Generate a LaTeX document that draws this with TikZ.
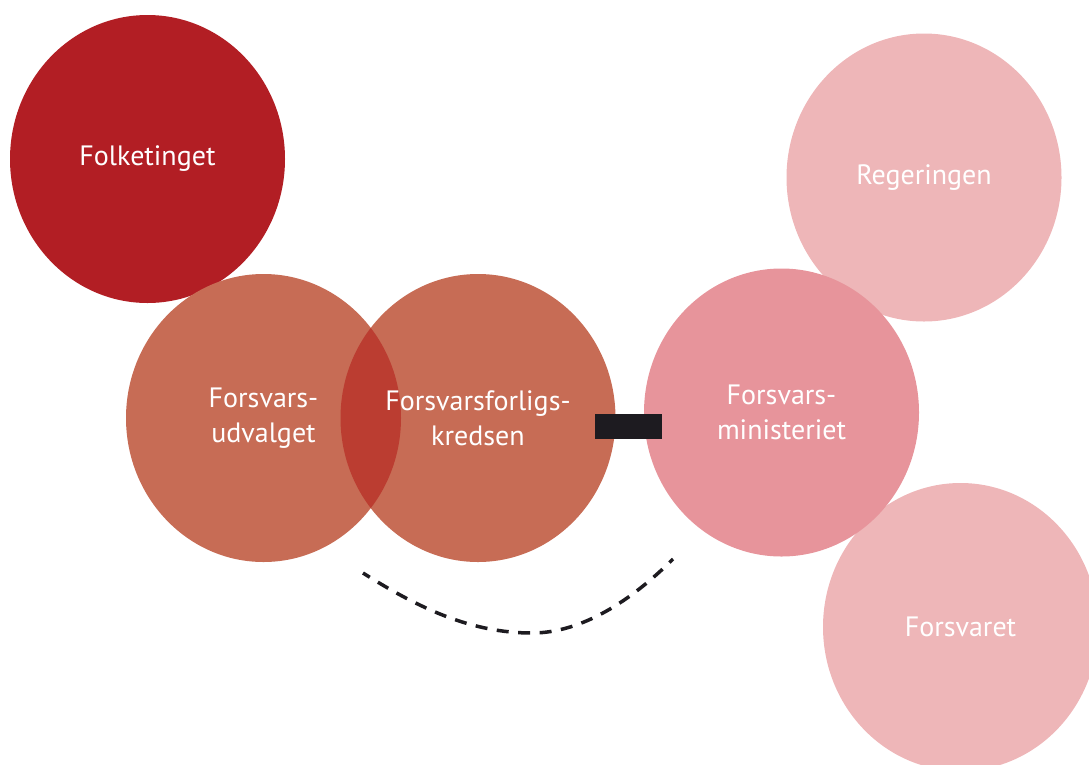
\documentclass[tikz,border=0pt]{standalone}
\usepackage{fontspec}
\setmainfont{PT Sans}
\usetikzlibrary{shapes.geometric}
\definecolor{folkred}{HTML}{B21E24}
\definecolor{salmon}{HTML}{C76C55}
\definecolor{lensred}{HTML}{BB3D31}
\definecolor{minipink}{HTML}{E7949B}
\definecolor{lightpink}{HTML}{EEB6B8}
\definecolor{barblack}{HTML}{1D1B20}
\begin{document}
\begin{tikzpicture}[x=1pt,y=-1pt,
  bubble/.style={ellipse, minimum width=275pt, minimum height=288pt, inner sep=0pt,
    text=white, align=center, font=\fontsize{28}{35}\selectfont},
  linkbar/.style={barblack, line width=25pt},
  dashlink/.style={barblack, line width=3.5pt, dash pattern=on 12pt off 9.5pt, dash phase=4pt}]
\useasboundingbox (0,0) rectangle (1089,764);
\node[bubble, fill=folkred] (folk) at (147.5,159) {Folketinget};
\node[bubble, fill=lightpink] (reg) at (924,177.5) {Regeringen};
\node[bubble, fill=lightpink] (forsv) at (960.5,627) {Forsvaret};
\node[bubble, fill=salmon] (udv) at (263.5,418) {Forsvars-\\udvalget};
\node[bubble, fill=salmon,
  path picture={\fill[lensred] ([xshift=-214.5pt]path picture bounding box.center)
    ellipse [x radius=137.5pt, y radius=144pt];}] (kred) at (478,418)
  {Forsvarsforligs-\\kredsen};
\node[bubble, fill=minipink] (mini) at (781.5,412.5) {Forsvars-\\ministeriet};
\coordinate (la) at ([xshift=-20.5pt,yshift=-8.5pt]kred.east);
\coordinate (lb) at ([xshift=18pt,yshift=-14pt]mini.west);
\draw[linkbar] (la) -- (lb);
\coordinate (da) at (363,573);
\coordinate (dm) at (532,633);
\coordinate (db) at (673,559);
\draw[dashlink] (da) .. controls (420,609) and (472,633) .. (dm)
  .. controls (582,633) and (632,600) .. (db);
\end{tikzpicture}
\end{document}
